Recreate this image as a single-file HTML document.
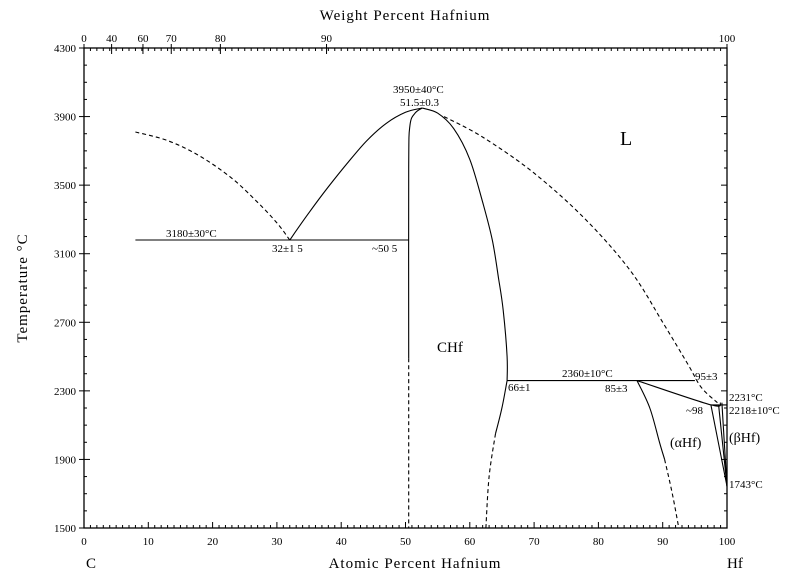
<!DOCTYPE html>
<html><head><meta charset="utf-8"><style>
body{margin:0;background:#fff}
svg text{font-family:"Liberation Serif",serif;fill:#000}
</style></head><body>
<svg id="c" width="800" height="576" xmlns="http://www.w3.org/2000/svg"></svg>
<script>
const atTicks=[0,10,20,30,40,50,60,70,80,90,100];
const wtTicks=[0,40,60,70,80,90,100];
const tTicks=[1500,1900,2300,2700,3100,3500,3900,4300];
// curves [at% Hf, T °C]
const liqLeftDash=[[8,3810],[13,3760],[18,3670],[23,3540],[27,3400],[30,3280],[32,3180]];
const liqLeftSolid=[[32,3180],[35,3340],[38,3490],[41,3630],[44,3760],[47,3860],[50,3925],[52.6,3950]];
const liqRight=[[52.6,3950],[55,3920],[57.5,3830],[60,3650],[62,3400],[63.5,3180],[64.5,2950],[65.2,2770],[65.8,2500],[65.8,2360]];
const liqRightDash=[[56,3900],[62,3780],[70,3570],[78,3300],[85,3000],[90,2700],[94,2450],[96,2320],[98.5,2231]];
const chfLeftSolid=[[50.5,2490],[50.5,3600],[50.7,3850],[51.5,3920],[52.6,3950]];
const chfLeftDash=[[50.5,2490],[50.5,1500]];
const chfRightSolid=[[65.8,2360],[65,2200],[64,2050]];
const chfRightDash=[[64,2050],[63,1800],[62.5,1500]];
const eutectic=[[8,3180],[50.5,3180]];
const peritectic=[[65.8,2360],[95,2360]];
const aHfTop=[[86,2360],[97.5,2218],[99,2231]];
const line2218=[[97.5,2218],[100,2218]];
const aHfSolid=[[86,2360],[88,2200],[89.5,2000],[90.3,1900]];
const aHfDash=[[90.3,1900],[91.5,1700],[92.5,1500]];
const aLeft=[[97.5,2218],[100,1743]];
const bLeft=[[98.7,2218],[100,1743]];
const bRight=[[99.2,2231],[100,1743]];
const X0=84,X1=727,Y0=528,Y1=48;
const sx=a=>X0+(X1-X0)*a/100, sy=t=>Y0-(Y0-Y1)*(t-1500)/2800;
const wt2at=w=>{const h=w/178.49,c=(100-w)/12.011;return 100*h/(h+c);};
const svg=document.getElementById('c');const NS='http://www.w3.org/2000/svg';
function mk(tag,at,name,txt){const e=document.createElementNS(NS,tag);for(const k in at)e.setAttribute(k,at[k]);


if(txt!==undefined)e.textContent=txt;svg.appendChild(e);return e;}
mk('rect',{x:X0,y:Y1,width:X1-X0,height:Y0-Y1,fill:'none',stroke:'#000','stroke-width':1.3},'plot-frame');
for(let a=0;a<=100;a++){const L=a%10==0?6:3;
mk('line',{x1:sx(a),y1:Y0,x2:sx(a),y2:Y0-L,stroke:'#000'},'x-tick');
mk('line',{x1:sx(a),y1:Y1,x2:sx(a),y2:Y1+3,stroke:'#000'},'top-minor-tick');}
atTicks.forEach(a=>mk('text',{x:sx(a),y:Y0+17,'font-size':11,'text-anchor':'middle'},'x-tick-label',a));
for(let t=1500;t<=4300;t+=100){const L=(t-1500)%400==0?6:3;
mk('line',{x1:X0,y1:sy(t),x2:X0+L,y2:sy(t),stroke:'#000'},'y-tick');
mk('line',{x1:X1,y1:sy(t),x2:X1-L,y2:sy(t),stroke:'#000'},'y-tick-right');}
tTicks.forEach(t=>{mk('line',{x1:X0-5,y1:sy(t),x2:X0,y2:sy(t),stroke:'#000'},'y-tick-out');
mk('text',{x:X0-8,y:sy(t)+4,'font-size':11,'text-anchor':'end'},'y-tick-label',t);});
wtTicks.forEach(w=>{const a=wt2at(w);mk('line',{x1:sx(a),y1:Y1-4,x2:sx(a),y2:Y1+6,stroke:'#000'},'top-tick');
mk('text',{x:sx(a),y:Y1-6,'font-size':11,'text-anchor':'middle'},'top-tick-label',w);});
function path(pts,name,dash){const P=pts.map(p=>[sx(p[0]),sy(p[1])]);let d='M'+P[0][0].toFixed(1)+','+P[0][1].toFixed(1);
for(let i=0;i<P.length-1;i++){const p0=P[Math.max(i-1,0)],p1=P[i],p2=P[i+1],p3=P[Math.min(i+2,P.length-1)];
const c1=[p1[0]+(p2[0]-p0[0])/6,p1[1]+(p2[1]-p0[1])/6],c2=[p2[0]-(p3[0]-p1[0])/6,p2[1]-(p3[1]-p1[1])/6];
d+='C'+c1.map(v=>v.toFixed(1)).join(',')+' '+c2.map(v=>v.toFixed(1)).join(',')+' '+p2.map(v=>v.toFixed(1)).join(',');}
const at={d:d,fill:'none',stroke:'#000','stroke-width':1.1};if(dash)at['stroke-dasharray']='4,3';mk('path',at,name);}
path(liqLeftDash,'liquidus-left-dashed',1);path(liqLeftSolid,'liquidus-left');path(liqRight,'liquidus-right');
path(liqRightDash,'liquidus-hf-dashed',1);path(chfLeftSolid,'chf-left-boundary');path(chfLeftDash,'chf-left-dashed',1);
path(chfRightSolid,'chf-right-boundary');path(chfRightDash,'chf-right-dashed',1);path(eutectic,'eutectic-line');
path(peritectic,'peritectic-line');path(aHfTop,'ahf-line');path(line2218,'line-2218');path(aHfSolid,'ahf-solvus');
path(aHfDash,'ahf-solvus-dashed',1);path(aLeft,'ahf-right');path(bLeft,'bhf-left');path(bRight,'bhf-right');
const labels=[[166,237,'3180±30°C'],[272,252,'32±1 5'],[372,252,'~50 5'],[393,93,'3950±40°C'],[400,106,'51.5±0.3'],
[562,377,'2360±10°C'],[605,392,'85±3'],[508,391,'66±1'],[695,380,'95±3'],[729,401,'2231°C'],[729,414,'2218±10°C'],
[686,414,'~98'],[729,488,'1743°C']];
labels.forEach(l=>mk('text',{x:l[0],y:l[1],'font-size':11},'annotation',l[2]));
mk('text',{x:620,y:145,'font-size':20},'liquid-label','L');
mk('text',{x:437,y:352,'font-size':15},'chf-label','CHf');
mk('text',{x:670,y:447,'font-size':14},'ahf-label','(αHf)');
mk('text',{x:729,y:442,'font-size':14},'bhf-label','(βHf)');
mk('text',{x:405,y:20,'font-size':15,'text-anchor':'middle','letter-spacing':1},'top-axis-title','Weight Percent Hafnium');
mk('text',{x:415,y:568,'font-size':15,'text-anchor':'middle','letter-spacing':1},'x-axis-title','Atomic Percent Hafnium');
mk('text',{x:86,y:568,'font-size':15},'element-c','C');
mk('text',{x:727,y:568,'font-size':15},'element-hf','Hf');
mk('text',{x:27,y:288,'font-size':15,'text-anchor':'middle','letter-spacing':1,transform:'rotate(-90 27 288)'},'y-axis-title','Temperature °C');
</script>
</body></html>
